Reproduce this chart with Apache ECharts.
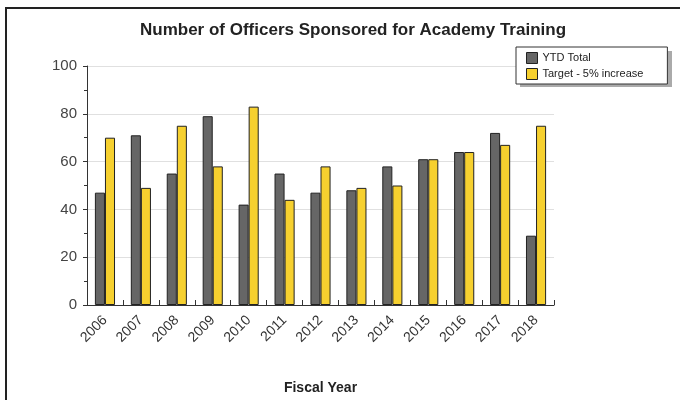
<!DOCTYPE html>
<html>
<head>
<meta charset="utf-8">
<script src="https://cdn.jsdelivr.net/npm/echarts@6/dist/echarts.min.js"></script>
<style>
  html, body { margin: 0; padding: 0; background: #fff; }
  #chart { width: 680px; height: 400px; }
</style>
</head>
<body>
<div id="chart"></div>
<script>
const years = ['2006', '2007', '2008', '2009', '2010', '2011', '2012', '2013', '2014', '2015', '2016', '2017', '2018']
const ytdTotal = [47, 71, 55, 79, 42, 55, 47, 48, 58, 61, 64, 72, 29]
const target = [70, 49, 75, 58, 83, 44, 58, 49, 50, 61, 64, 67, 75]

const chart = echarts.init(document.getElementById('chart'))

chart.setOption({
  animation: false,
  textStyle: { fontFamily: 'Liberation Sans, Arial, sans-serif' },
  title: {
    text: 'Number of Officers Sponsored for Academy Training',
    left: 348,
    top: 17,
    textAlign: 'center',
    textStyle: { fontSize: 17, fontWeight: 'bold', color: '#222' }
  },
  // outer frame and legend drop shadow
  graphic: [
    {
      type: 'rect',
      shape: { x: 6, y: 8, width: 720, height: 440 },
      style: { fill: 'none', stroke: '#222', lineWidth: 2 },
      silent: true
    },
    {
      type: 'rect',
      z: -1,
      shape: { x: 520, y: 51, width: 152, height: 36 },
      style: { fill: '#aaa' },
      silent: true
    }
  ],
  legend: {
    orient: 'vertical',
    left: 516,
    top: 47,
    padding: [5, 24, 4, 10],
    itemGap: 4,
    itemWidth: 11,
    itemHeight: 11,
    icon: 'rect',
    backgroundColor: '#fff',
    borderColor: '#333',
    borderWidth: 1,
    borderRadius: 0,
    textStyle: { fontSize: 11, color: '#222' },
    itemStyle: { borderColor: '#222', borderWidth: 1 },
    data: ['YTD Total', 'Target - 5% increase']
  },
  grid: { left: 87, right: 126, top: 66, bottom: 95 },
  xAxis: {
    type: 'category',
    data: years,
    name: 'Fiscal Year',
    nameLocation: 'middle',
    nameGap: 76,
    nameTextStyle: { fontSize: 14, fontWeight: 'bold', color: '#222' },
    axisLine: { lineStyle: { color: '#333' } },
    axisTick: { show: true, inside: true, length: 5, lineStyle: { color: '#333' } },
    axisLabel: { rotate: 45, fontSize: 14, color: '#333', margin: 13, interval: 0 }
  },
  yAxis: {
    type: 'value',
    min: 0,
    max: 100,
    interval: 20,
    axisLine: { show: true, lineStyle: { color: '#333' } },
    axisTick: { show: true, length: 4, lineStyle: { color: '#333' } },
    minorTick: { show: true, splitNumber: 2, length: 3, lineStyle: { color: '#333' } },
    axisLabel: { fontSize: 15, color: '#444', margin: 10 },
    splitLine: { lineStyle: { color: '#e0e0e0' } }
  },
  series: [
    {
      name: 'YTD Total',
      type: 'bar',
      data: ytdTotal,
      barGap: '0%',
      barCategoryGap: '44%',
      itemStyle: { color: '#666666', borderColor: '#222', borderWidth: 1 }
    },
    {
      name: 'Target - 5% increase',
      type: 'bar',
      data: target,
      itemStyle: { color: '#f6d02f', borderColor: '#222', borderWidth: 1 }
    }
  ]
})
</script>
</body>
</html>
